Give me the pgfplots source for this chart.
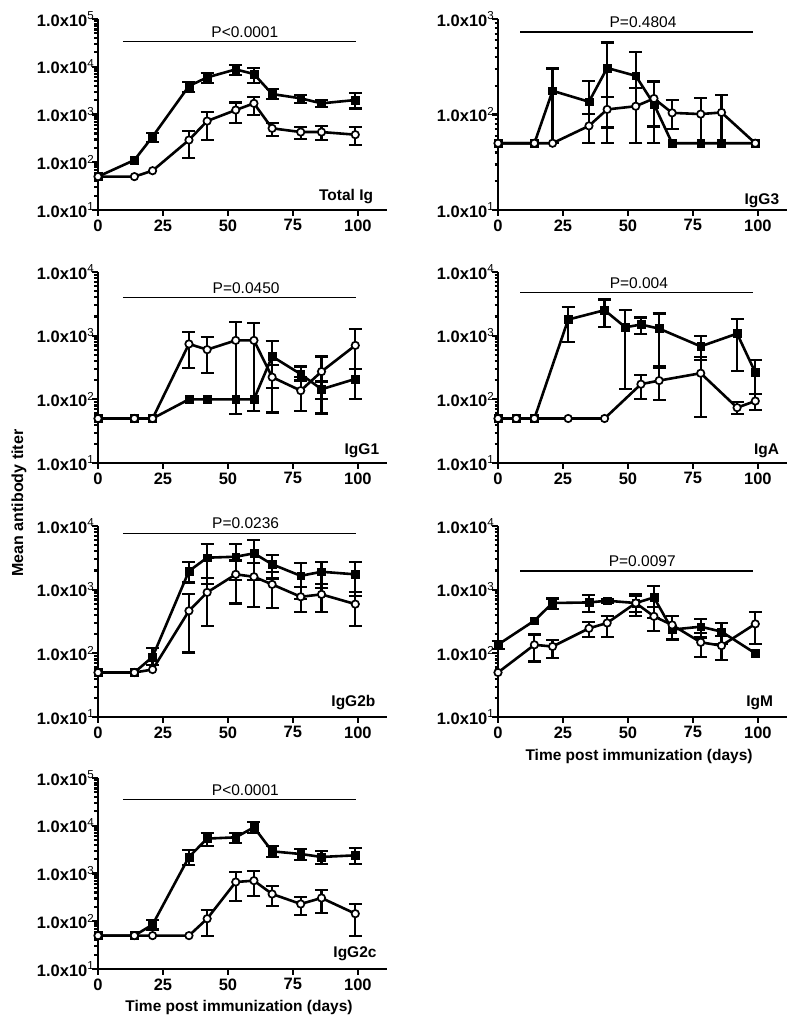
\documentclass[border=0pt]{standalone}
\usepackage{fontspec}
\setmainfont{Liberation Sans}
\usepackage{pgfplots}
\usepackage{pgfplotstable}
\pgfplotsset{compat=1.18}

% ---------- Total Ig ----------
\pgfplotstableread{
x y
0 50
14 111
21 343
35 3950
42 5980
53 8800
60 7030
67 2680
78 2180
86 1710
99 2010
}\aSq
\pgfplotstableread{
x y hi lo
21 343 403 270
35 3950 4860 3000
42 5980 7500 4490
53 8800 10870 6700
60 7030 9250 4490
67 2680 3360 2080
78 2180 2560 1770
86 1710 2010 1410
99 2010 2770 1340
}\aSqE
\pgfplotstableread{
x y
0 50
14 50
21 66.5
35 292
42 729
53 1240
60 1710
67 513
78 429
86 429
99 378
}\aCi
\pgfplotstableread{
x y hi lo
35 292 451 121
42 729 1110 292
53 1240 1790 652
60 1710 2360 975
67 513 652 354
78 429 556 301
86 429 572 292
99 378 538 229
}\aCiE
% ---------- IgG3 ----------
\pgfplotstableread{
x y
0 50
14 50
21 177
35 136
42 307
53 254
60 128
67 50
78 50
86 50
99 50
}\bSq
\pgfplotstableread{
x y hi lo
21 177 303 50
35 136 223 50
42 307 566 50
53 254 452 50
60 128 219 50
}\bSqE
\pgfplotstableread{
x y
0 50
14 50
21 50
35 76
42 113
53 122
60 147
67 104
78 101
86 105
99 50
}\bCi
\pgfplotstableread{
x y hi lo
35 76 102 50
42 113 153 73
53 122 191 50
60 147 223 75
67 104 141 70
78 101 149 50
86 105 159 50
}\bCiE
% ---------- IgG1 ----------
\pgfplotstableread{
x y
0 50
14 50
21 50
35 100
42 100
53 100
60 100
67 472
78 249
86 144
99 209
}\cSq
\pgfplotstableread{
x y hi lo
67 472 813 150
78 249 328 197
86 144 190 100
99 209 300 100
}\cSqE
\pgfplotstableread{
x y
0 50
14 50
21 50
35 741
42 603
53 843
60 843
67 223
78 137
86 273
99 703
}\cCi
\pgfplotstableread{
x y hi lo
35 741 1146 309
42 603 942 258
53 843 1620 59
60 843 1590 65
67 223 350 62
78 137 223 65
86 273 472 60
99 703 1290 100
}\cCiE
% ---------- IgA ----------
\pgfplotstableread{
x y
0 50
7 50
14 50
27 1790
41 2513
49 1355
55 1494
62 1290
78 679
92 1077
99 264
}\dSq
\pgfplotstableread{
x y hi lo
27 1790 2845 795
41 2513 3700 1375
49 1355 2513 146
55 1494 1930 1065
62 1290 2230 328
78 679 1000 417
92 1077 1836 280
99 264 418 121
}\dSqE
\pgfplotstableread{
x y
0 50
7 50
14 50
27 50
41 50
55 173
62 197
78 257
92 74
99 94
}\dCi
\pgfplotstableread{
x y hi lo
55 173 243 101
62 197 309 98
78 257 461 53
92 74 90 59
99 94 121 68
}\dCiE
% ---------- IgG2b ----------
\pgfplotstableread{
x y
0 50
14 50
21 88
35 1960
42 3180
53 3290
60 3720
67 2500
78 1650
86 1910
99 1740
}\eSq
\pgfplotstableread{
x y hi lo
21 88 122 65
35 1960 2690 1300
42 3180 5150 1210
53 3290 5150 1430
60 3720 6030 1410
67 2500 3500 1500
78 1650 2590 710
86 1910 2750 1070
99 1740 2690 790
}\eSqE
\pgfplotstableread{
x y
0 50
14 50
21 55.6
35 465
42 906
53 1740
60 1595
67 1210
78 773
86 843
99 593
}\eCi
\pgfplotstableread{
x y hi lo
35 465 843 103
42 906 1540 270
53 1740 2870 608
60 1595 2650 538
67 1210 1900 519
78 773 1100 449
86 843 1240 449
99 593 916 270
}\eCiE
% ---------- IgM ----------
\pgfplotstableread{
x y
0 137
14 326
21 617
35 630
42 670
53 617
60 755
67 236
78 262
86 219
99 100
}\fSq
\pgfplotstableread{
x y hi lo
0 137 158 118
21 617 728 497
35 630 822 451
42 670 720 620
53 617 800 450
60 755 1150 360
67 236 391 164
78 262 347 177
86 219 296 142
}\fSqE
\pgfplotstableread{
x y
0 50
14 136
21 128
35 247
42 300
53 617
60 381
67 279
78 149
86 132
99 290
}\fCi
\pgfplotstableread{
x y hi lo
14 136 197 74.5
21 128 163 84
35 247 307 179
42 300 391 179
53 617 853 381
60 381 540 222
67 279 389 169
78 149 211 87
86 132 185 79
99 290 440 141
}\fCiE
% ---------- IgG2c ----------
\pgfplotstableread{
x y
0 50
14 50
21 85
35 2220
42 5380
53 5720
60 9270
67 2910
78 2560
86 2220
99 2400
}\gSq
\pgfplotstableread{
x y hi lo
21 85 108 67
35 2220 3160 1530
42 5380 7050 3830
53 5720 7050 4360
60 9270 11800 7050
67 2910 3700 2220
78 2560 3260 1890
86 2220 2910 1610
99 2400 3420 1580
}\gSqE
\pgfplotstableread{
x y
0 50
14 50
21 50
35 50
42 113
53 663
60 708
67 372
78 230
86 307
99 144
}\gCi
\pgfplotstableread{
x y hi lo
42 113 175 50
53 663 1075 270
60 708 1110 333
67 372 538 205
78 230 322 137
86 307 444 147
99 144 233 50
}\gCiE

\pgfplotsset{
  mysq/.style={black, line width=2.6pt, mark=square*, mark size=3.9pt,
    mark options={solid, fill=black, line width=0.5pt}},
  myci/.style={black, line width=2.6pt, mark=*, mark size=3.7pt,
    mark options={solid, fill=white, line width=1.7pt}},
  myerr/.style={forget plot, only marks, mark=*, mark size=1pt, black,
    error bars/y dir=both, error bars/y explicit,
    error bars/error mark=-,
    error bars/error bar style={line width=2.2pt, solid, black},
    error bars/error mark options={rotate=90, line width=2.2pt, mark size=6.5pt, black}},
  mypbar/.style={black, line width=1.3pt, mark=none, forget plot},
}
\newcommand{\ytl}[1]{1.0x10\textsuperscript{\mdseries #1}}
\newcommand{\pfont}{\fontsize{15.5}{18}\selectfont}
\newcommand{\tfont}{\fontsize{16.5}{19}\selectfont}

\begin{document}
\begin{tikzpicture}
\useasboundingbox (0,0) rectangle (800pt,1031pt);

% ---------- Total Ig ----------
\begin{axis}[scale only axis, width=289pt, height=191pt,
    ymode=log, xmin=0, xmax=111.2, ymin=10, ymax=1e5,
    enlargelimits=false, clip=false,
    axis x line*=bottom, axis y line*=left,
    axis line style={line width=2.7pt, black},
    xtick={0,25,50,75,100}, xticklabels={0,25,50,75,100},
    tick style={line width=2.2pt, black},
    major tick length=6pt, minor tick length=3.5pt, tick align=outside,
    ticklabel style={font=\tfont\bfseries},
    yticklabel style={inner sep=0.5pt, xshift=3pt},
    at={(98pt,821pt)}, anchor=south west,
    ytick={10,100,1000,10000,100000}, yticklabels={\ytl{1},\ytl{2},\ytl{3},\ytl{4},\ytl{5}}]
\addplot[mypbar] coordinates {(9.6,33400) (99.4,33400)};
\node[anchor=base, font=\pfont, yshift=4.5pt] at (axis cs:56.5,33400) {P<0.0001};
\addplot[myerr] table[x=x, y=y, y error plus expr=\thisrow{hi}-\thisrow{y}, y error minus expr=\thisrow{y}-\thisrow{lo}] {\aSqE};
\addplot[mysq] table[x=x,y=y] {\aSq};
\addplot[myerr] table[x=x, y=y, y error plus expr=\thisrow{hi}-\thisrow{y}, y error minus expr=\thisrow{y}-\thisrow{lo}] {\aCiE};
\addplot[myci] table[x=x,y=y] {\aCi};
\node[anchor=east, font=\pfont\bfseries] at (rel axis cs:0.964,0.07) {Total Ig};
\end{axis}

% ---------- IgG3 ----------
\begin{axis}[scale only axis, width=289pt, height=191pt,
    ymode=log, xmin=0, xmax=111.2, ymin=10, ymax=1e3,
    enlargelimits=false, clip=false,
    axis x line*=bottom, axis y line*=left,
    axis line style={line width=2.7pt, black},
    xtick={0,25,50,75,100}, xticklabels={0,25,50,75,100},
    tick style={line width=2.2pt, black},
    major tick length=6pt, minor tick length=3.5pt, tick align=outside,
    ticklabel style={font=\tfont\bfseries},
    yticklabel style={inner sep=0.5pt, xshift=3pt},
    at={(498pt,821pt)}, anchor=south west,
    ytick={10,100,1000}, yticklabels={\ytl{1},\ytl{2},\ytl{3}}]
\addplot[mypbar] coordinates {(8.6,731) (98,731)};
\node[anchor=base, font=\pfont, yshift=4.5pt] at (axis cs:55.8,731) {P=0.4804};
\addplot[myerr] table[x=x, y=y, y error plus expr=\thisrow{hi}-\thisrow{y}, y error minus expr=\thisrow{y}-\thisrow{lo}] {\bSqE};
\addplot[mysq] table[x=x,y=y] {\bSq};
\addplot[myerr] table[x=x, y=y, y error plus expr=\thisrow{hi}-\thisrow{y}, y error minus expr=\thisrow{y}-\thisrow{lo}] {\bCiE};
\addplot[myci] table[x=x,y=y] {\bCi};
\node[anchor=east, font=\pfont\bfseries] at (rel axis cs:0.985,0.05) {IgG3};
\end{axis}

% ---------- IgG1 ----------
\begin{axis}[scale only axis, width=289pt, height=191pt,
    ymode=log, xmin=0, xmax=111.2, ymin=10, ymax=1e4,
    enlargelimits=false, clip=false,
    axis x line*=bottom, axis y line*=left,
    axis line style={line width=2.7pt, black},
    xtick={0,25,50,75,100}, xticklabels={0,25,50,75,100},
    tick style={line width=2.2pt, black},
    major tick length=6pt, minor tick length=3.5pt, tick align=outside,
    ticklabel style={font=\tfont\bfseries},
    yticklabel style={inner sep=0.5pt, xshift=3pt},
    at={(98pt,568pt)}, anchor=south west,
    ytick={10,100,1000,10000}, yticklabels={\ytl{1},\ytl{2},\ytl{3},\ytl{4}}]
\addplot[mypbar] coordinates {(9.6,3940) (99.4,3940)};
\node[anchor=base, font=\pfont, yshift=4.5pt] at (axis cs:57,3940) {P=0.0450};
\addplot[myerr] table[x=x, y=y, y error plus expr=\thisrow{hi}-\thisrow{y}, y error minus expr=\thisrow{y}-\thisrow{lo}] {\cSqE};
\addplot[mysq] table[x=x,y=y] {\cSq};
\addplot[myerr] table[x=x, y=y, y error plus expr=\thisrow{hi}-\thisrow{y}, y error minus expr=\thisrow{y}-\thisrow{lo}] {\cCiE};
\addplot[myci] table[x=x,y=y] {\cCi};
\node[anchor=east, font=\pfont\bfseries] at (rel axis cs:0.985,0.063) {IgG1};
\end{axis}

% ---------- IgA ----------
\begin{axis}[scale only axis, width=289pt, height=191pt,
    ymode=log, xmin=0, xmax=111.2, ymin=10, ymax=1e4,
    enlargelimits=false, clip=false,
    axis x line*=bottom, axis y line*=left,
    axis line style={line width=2.7pt, black},
    xtick={0,25,50,75,100}, xticklabels={0,25,50,75,100},
    tick style={line width=2.2pt, black},
    major tick length=6pt, minor tick length=3.5pt, tick align=outside,
    ticklabel style={font=\tfont\bfseries},
    yticklabel style={inner sep=0.5pt, xshift=3pt},
    at={(498pt,568pt)}, anchor=south west,
    ytick={10,100,1000,10000}, yticklabels={\ytl{1},\ytl{2},\ytl{3},\ytl{4}}]
\addplot[mypbar] coordinates {(8.6,4720) (98,4720)};
\node[anchor=base, font=\pfont, yshift=4.5pt] at (axis cs:54.2,4720) {P=0.004};
\addplot[myerr] table[x=x, y=y, y error plus expr=\thisrow{hi}-\thisrow{y}, y error minus expr=\thisrow{y}-\thisrow{lo}] {\dSqE};
\addplot[mysq] table[x=x,y=y] {\dSq};
\addplot[myerr] table[x=x, y=y, y error plus expr=\thisrow{hi}-\thisrow{y}, y error minus expr=\thisrow{y}-\thisrow{lo}] {\dCiE};
\addplot[myci] table[x=x,y=y] {\dCi};
\node[anchor=east, font=\pfont\bfseries] at (rel axis cs:0.985,0.063) {IgA};
\end{axis}

% ---------- IgG2b ----------
\begin{axis}[scale only axis, width=289pt, height=191pt,
    ymode=log, xmin=0, xmax=111.2, ymin=10, ymax=1e4,
    enlargelimits=false, clip=false,
    axis x line*=bottom, axis y line*=left,
    axis line style={line width=2.7pt, black},
    xtick={0,25,50,75,100}, xticklabels={0,25,50,75,100},
    tick style={line width=2.2pt, black},
    major tick length=6pt, minor tick length=3.5pt, tick align=outside,
    ticklabel style={font=\tfont\bfseries},
    yticklabel style={inner sep=0.5pt, xshift=3pt},
    at={(98pt,314pt)}, anchor=south west,
    ytick={10,100,1000,10000}, yticklabels={\ytl{1},\ytl{2},\ytl{3},\ytl{4}}]
\addplot[mypbar] coordinates {(9.6,7660) (99.4,7660)};
\node[anchor=base, font=\pfont, yshift=4.5pt] at (axis cs:56.8,7660) {P=0.0236};
\addplot[myerr] table[x=x, y=y, y error plus expr=\thisrow{hi}-\thisrow{y}, y error minus expr=\thisrow{y}-\thisrow{lo}] {\eSqE};
\addplot[mysq] table[x=x,y=y] {\eSq};
\addplot[myerr] table[x=x, y=y, y error plus expr=\thisrow{hi}-\thisrow{y}, y error minus expr=\thisrow{y}-\thisrow{lo}] {\eCiE};
\addplot[myci] table[x=x,y=y] {\eCi};
\node[anchor=east, font=\pfont\bfseries] at (rel axis cs:0.972,0.077) {IgG2b};
\end{axis}

% ---------- IgM ----------
\begin{axis}[scale only axis, width=289pt, height=191pt,
    ymode=log, xmin=0, xmax=111.2, ymin=10, ymax=1e4,
    enlargelimits=false, clip=false,
    axis x line*=bottom, axis y line*=left,
    axis line style={line width=2.7pt, black},
    xtick={0,25,50,75,100}, xticklabels={0,25,50,75,100},
    tick style={line width=2.2pt, black},
    major tick length=6pt, minor tick length=3.5pt, tick align=outside,
    ticklabel style={font=\tfont\bfseries},
    yticklabel style={inner sep=0.5pt, xshift=3pt},
    at={(498pt,314pt)}, anchor=south west,
    ytick={10,100,1000,10000}, yticklabels={\ytl{1},\ytl{2},\ytl{3},\ytl{4}}]
\addplot[mypbar] coordinates {(8.6,1970) (98,1970)};
\node[anchor=base, font=\pfont, yshift=4.5pt] at (axis cs:55.5,1970) {P=0.0097};
\addplot[myerr] table[x=x, y=y, y error plus expr=\thisrow{hi}-\thisrow{y}, y error minus expr=\thisrow{y}-\thisrow{lo}] {\fSqE};
\addplot[mysq] table[x=x,y=y] {\fSq};
\addplot[myerr] table[x=x, y=y, y error plus expr=\thisrow{hi}-\thisrow{y}, y error minus expr=\thisrow{y}-\thisrow{lo}] {\fCiE};
\addplot[myci] table[x=x,y=y] {\fCi};
\node[anchor=east, font=\pfont\bfseries] at (rel axis cs:0.964,0.075) {IgM};
\node[anchor=center, font=\pfont\bfseries, yshift=-39pt] at (rel axis cs:0.488,0) {Time post immunization (days)};
\end{axis}

% ---------- IgG2c ----------
\begin{axis}[scale only axis, width=289pt, height=191pt,
    ymode=log, xmin=0, xmax=111.2, ymin=10, ymax=1e5,
    enlargelimits=false, clip=false,
    axis x line*=bottom, axis y line*=left,
    axis line style={line width=2.7pt, black},
    xtick={0,25,50,75,100}, xticklabels={0,25,50,75,100},
    tick style={line width=2.2pt, black},
    major tick length=6pt, minor tick length=3.5pt, tick align=outside,
    ticklabel style={font=\tfont\bfseries},
    yticklabel style={inner sep=0.5pt, xshift=3pt},
    at={(98pt,62pt)}, anchor=south west,
    ytick={10,100,1000,10000,100000}, yticklabels={\ytl{1},\ytl{2},\ytl{3},\ytl{4},\ytl{5}}]
\addplot[mypbar] coordinates {(9.6,35200) (99.4,35200)};
\node[anchor=base, font=\pfont, yshift=4.5pt] at (axis cs:56.7,35200) {P<0.0001};
\addplot[myerr] table[x=x, y=y, y error plus expr=\thisrow{hi}-\thisrow{y}, y error minus expr=\thisrow{y}-\thisrow{lo}] {\gSqE};
\addplot[mysq] table[x=x,y=y] {\gSq};
\addplot[myerr] table[x=x, y=y, y error plus expr=\thisrow{hi}-\thisrow{y}, y error minus expr=\thisrow{y}-\thisrow{lo}] {\gCiE};
\addplot[myci] table[x=x,y=y] {\gCi};
\node[anchor=east, font=\pfont\bfseries] at (rel axis cs:0.976,0.079) {IgG2c};
\node[anchor=center, font=\pfont\bfseries, yshift=-38pt] at (rel axis cs:0.488,0) {Time post immunization (days)};
\end{axis}

\node[rotate=90, font=\fontsize{16}{19}\selectfont\bfseries] at (19pt,528pt) {Mean antibody titer};
\end{tikzpicture}
\end{document}
